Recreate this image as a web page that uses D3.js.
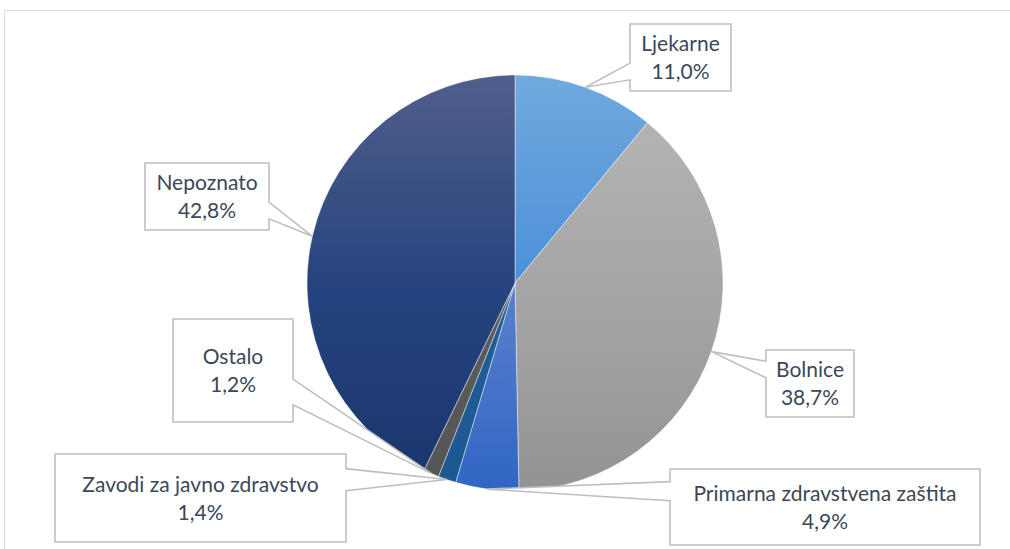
<!DOCTYPE html>
<html>
<head>
<meta charset="utf-8">
<script src="https://cdnjs.cloudflare.com/ajax/libs/d3/7.8.5/d3.min.js"></script>
<style>
  html, body { margin: 0; padding: 0; background: #fff; }
  svg text { font-family: Lato, "Open Sans", sans-serif; }
</style>
</head>
<body>
<div id="chart"></div>
<script>
// data
var categories = ["Ljekarne", "Bolnice", "Primarna zdravstvena zaštita",
                  "Zavodi za javno zdravstvo", "Ostalo", "Nepoznato"];
var shares = [11.0, 38.7, 4.9, 1.4, 1.2, 42.8];
var shareLabels = ["11,0%", "38,7%", "4,9%", "1,4%", "1,2%", "42,8%"];

// look: top / middle / bottom of each slice's gradient
var topColors = ["#71a9de", "#b3b3b3", "#5a80cd", "#21609a", "#5c5c5c", "#505e8b"];
var midColors = ["#5d9bdb", "#a3a3a3", "#4472c8", "#1f5b95", "#595959", "#25437e"];
var bottomColors = ["#4a90d8", "#939393", "#2f65c4", "#1c5790", "#555555", "#1a376d"];

// callout boxes (x, y, w, h)
var boxes = [
  [630, 24, 101, 67],
  [766, 350, 88, 67],
  [670, 469, 310, 76],
  [55, 454, 291, 88],
  [173, 319, 120, 103],
  [145, 163, 124, 67]
];

var W = 1010, H = 549;
var cx = 515, cy = 283, R = 208;

var svg = d3.select("#chart").append("svg")
    .attr("width", W)
    .attr("height", H);

// chart area frame
svg.append("rect")
    .attr("x", 4.5).attr("y", 10.5)
    .attr("width", W + 20).attr("height", H + 20)
    .attr("fill", "#fff")
    .attr("stroke", "#d9dde3")
    .attr("stroke-width", 1);

var defs = svg.append("defs");
categories.forEach(function(c, i) {
  var g = defs.append("linearGradient")
      .attr("id", "grad" + i)
      .attr("x1", 0).attr("y1", 0).attr("x2", 0).attr("y2", 1);
  g.append("stop").attr("offset", "0%").attr("stop-color", topColors[i]);
  g.append("stop").attr("offset", "55%").attr("stop-color", midColors[i]);
  g.append("stop").attr("offset", "100%").attr("stop-color", bottomColors[i]);
});

var pie = d3.pie().sort(null).value(function(d) { return d; });
var arcs = pie(shares);
var arc = d3.arc().innerRadius(0).outerRadius(R);

var pieG = svg.append("g").attr("transform", "translate(" + cx + "," + cy + ")");
pieG.selectAll("path")
    .data(arcs)
    .enter()
    .append("path")
      .attr("d", arc)
      .attr("fill", function(d, i) { return "url(#grad" + i + ")"; })
      .attr("stroke", "#ffffff")
      .attr("stroke-opacity", 0.6)
      .attr("stroke-width", 0.75);

// callouts with wedge pointing at the slice edge
var calloutG = svg.append("g");
arcs.forEach(function(d, i) {
  var mid = (d.startAngle + d.endAngle) / 2;
  var tx = cx + R * Math.sin(mid);
  var ty = cy - R * Math.cos(mid);
  var b = boxes[i];
  var x0 = b[0], y0 = b[1], x1 = b[0] + b[2], y1 = b[1] + b[3];
  var bcy = y0 + b[3] / 2;
  var f1 = ty < bcy ? 2 / 12 : 7 / 12;
  var f2 = ty < bcy ? 5 / 12 : 10 / 12;
  var ya = y0 + b[3] * f1, yb = y0 + b[3] * f2;
  var pts;
  if (tx < x0) {
    pts = [[x0, y0], [x1, y0], [x1, y1], [x0, y1], [x0, yb], [tx, ty], [x0, ya]];
  } else {
    pts = [[x0, y0], [x1, y0], [x1, ya], [tx, ty], [x1, yb], [x1, y1], [x0, y1]];
  }
  calloutG.append("path")
      .attr("d", "M" + pts.map(function(p) { return p[0] + "," + p[1]; }).join("L") + "Z")
      .attr("fill", "#fff")
      .attr("stroke", "#bfbfbf")
      .attr("stroke-width", 1.6)
      .attr("stroke-linejoin", "miter");

  var mx = x0 + b[2] / 2;
  var t = calloutG.append("text")
      .attr("text-anchor", "middle")
      .attr("fill", "#3c4758")
      .style("font-size", "21px");
  t.append("tspan").attr("x", mx).attr("y", bcy - 6.5).text(categories[i]);
  t.append("tspan").attr("x", mx).attr("y", bcy + 21.5).text(shareLabels[i]);
});
</script>
</body>
</html>
